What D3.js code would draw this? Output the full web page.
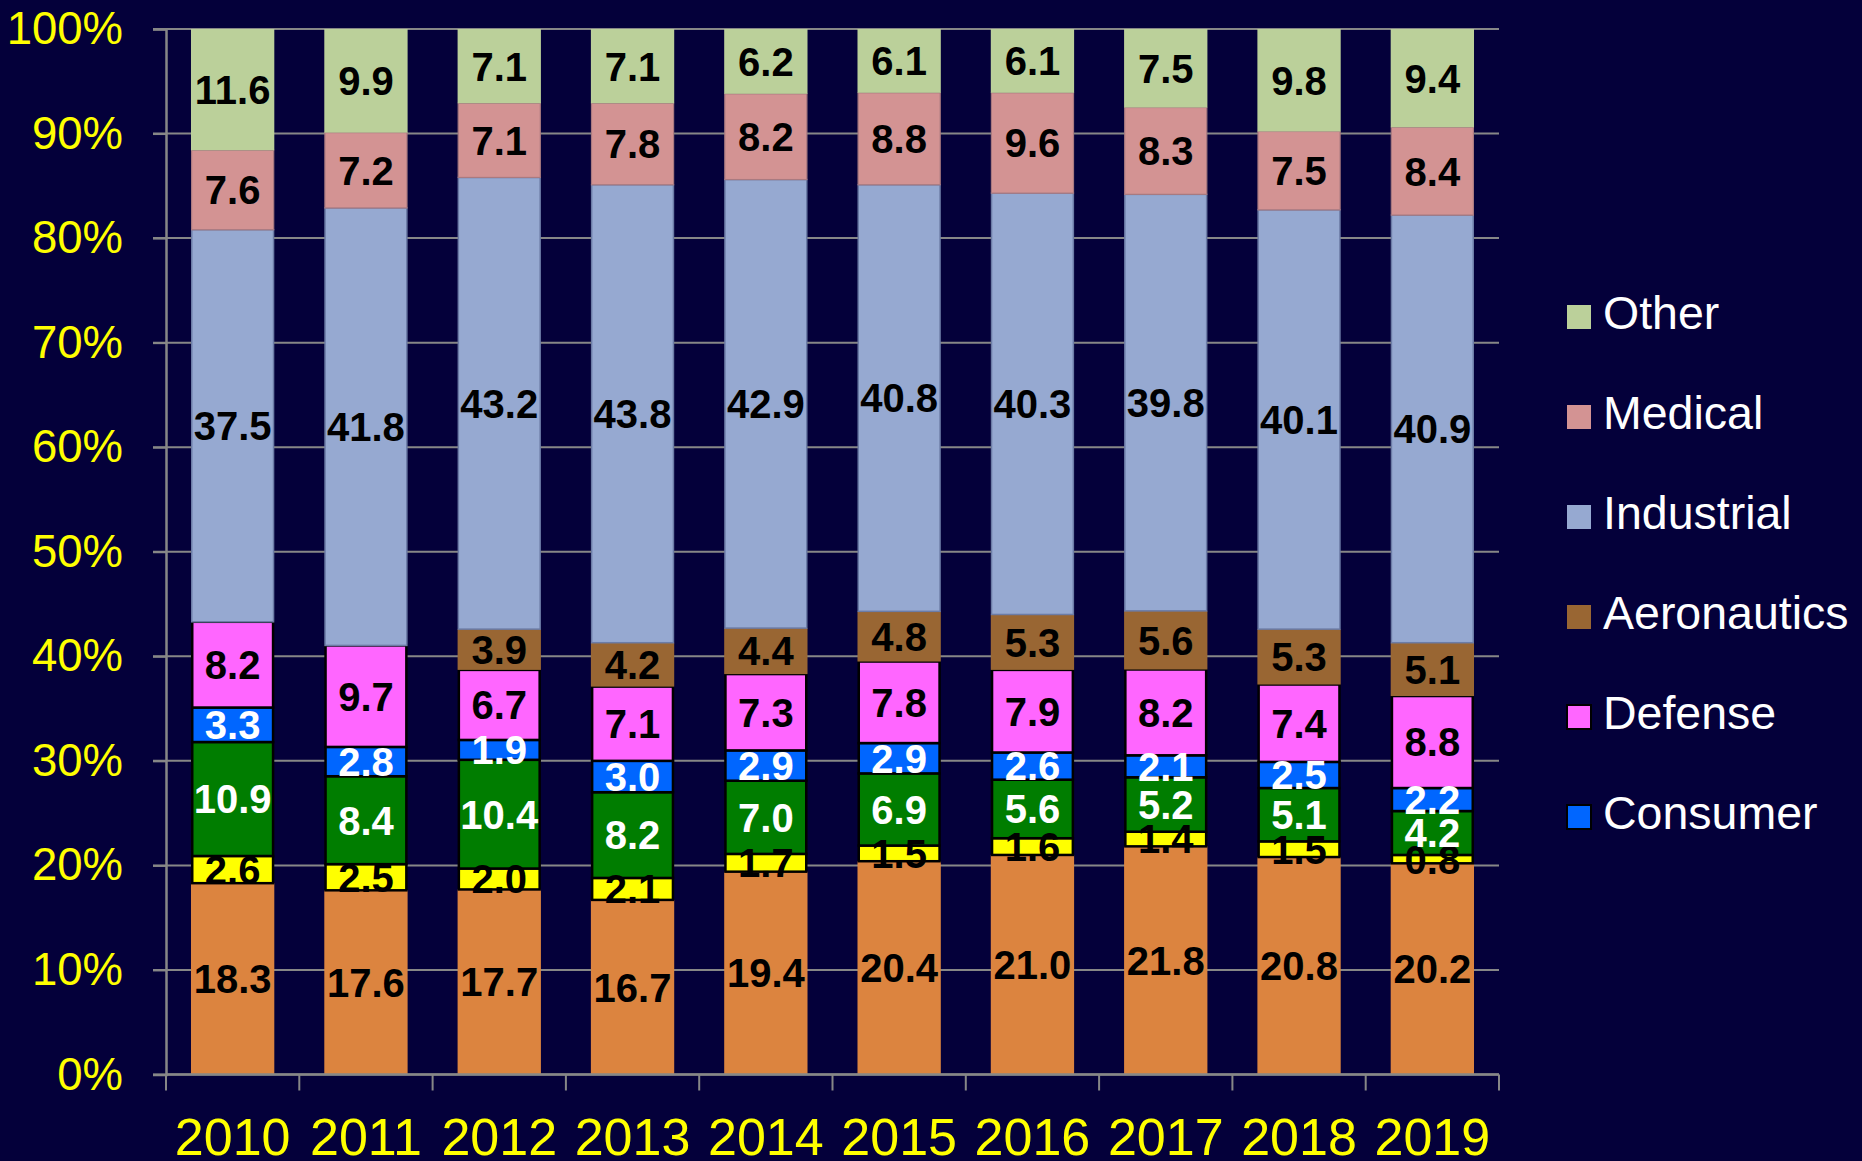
<!DOCTYPE html>
<html>
<head>
<meta charset="utf-8">
<script src="https://cdn.jsdelivr.net/npm/d3@7"></script>
<style>
  html, body { margin: 0; padding: 0; background: #04003a; }
  svg { display: block; }
  text { font-family: "Liberation Sans", Arial, sans-serif; }
</style>
</head>
<body>
<svg id="chart" width="1862" height="1161"></svg>
<script>
// Market share by segment (percent of total), one entry per year
const years = ["2010", "2011", "2012", "2013", "2014", "2015", "2016", "2017", "2018", "2019"];

// Segments from the bottom of each bar to the top
const segA        = [18.3, 17.6, 17.7, 16.7, 19.4, 20.4, 21.0, 21.8, 20.8, 20.2];
const segB        = [2.6, 2.5, 2.0, 2.1, 1.7, 1.5, 1.6, 1.4, 1.5, 0.8];
const segC        = [10.9, 8.4, 10.4, 8.2, 7.0, 6.9, 5.6, 5.2, 5.1, 4.2];
const consumer    = [3.3, 2.8, 1.9, 3.0, 2.9, 2.9, 2.6, 2.1, 2.5, 2.2];
const defense     = [8.2, 9.7, 6.7, 7.1, 7.3, 7.8, 7.9, 8.2, 7.4, 8.8];
const aeronautics = [0, 0, 3.9, 4.2, 4.4, 4.8, 5.3, 5.6, 5.3, 5.1];
const industrial  = [37.5, 41.8, 43.2, 43.8, 42.9, 40.8, 40.3, 39.8, 40.1, 40.9];
const medical     = [7.6, 7.2, 7.1, 7.8, 8.2, 8.8, 9.6, 8.3, 7.5, 8.4];
const other       = [11.6, 9.9, 7.1, 7.1, 6.2, 6.1, 6.1, 7.5, 9.8, 9.4];

const yTicks = [0, 0.1, 0.2, 0.3, 0.4, 0.5, 0.6, 0.7, 0.8, 0.9, 1.0];
const legendKeys = ["Other", "Medical", "Industrial", "Aeronautics", "Defense", "Consumer"];

const series = [
  { key: "SegA",        values: segA,        fill: "#dc843f", stroke: "none",    sw: 0,   label: "#000" },
  { key: "SegB",        values: segB,        fill: "#ffff00", stroke: "#000",    sw: 2.5, label: "#000" },
  { key: "SegC",        values: segC,        fill: "#007d00", stroke: "#000",    sw: 2.5, label: "#fff" },
  { key: "Consumer",    values: consumer,    fill: "#0066ff", stroke: "#000",    sw: 2.5, label: "#fff" },
  { key: "Defense",     values: defense,     fill: "#ff66ff", stroke: "#000",    sw: 2.5, label: "#000" },
  { key: "Aeronautics", values: aeronautics, fill: "#996633", stroke: "none",    sw: 0,   label: "#000" },
  { key: "Industrial",  values: industrial,  fill: "#96a9d1", stroke: "#6c7ca6", sw: 1.5, label: "#000" },
  { key: "Medical",     values: medical,     fill: "#d39393", stroke: "#a97a80", sw: 1.2, label: "#000" },
  { key: "Other",       values: other,       fill: "#bbd09a", stroke: "none",    sw: 0,   label: "#000" }
];

const rows = years.map((yr, i) => {
  const r = { year: yr };
  series.forEach(s => { r[s.key] = s.values[i]; });
  return r;
});

const stack = d3.stack()
  .keys(series.map(s => s.key))
  .offset(d3.stackOffsetExpand);
const stacked = stack(rows);

const svg = d3.select("#chart");
const plotLeft = 166, plotRight = 1499, plotTop = 29, plotBottom = 1074.5;

const x = d3.scaleBand().domain(years).range([plotLeft, plotRight])
  .paddingInner(0.375).paddingOuter(0.1875);
const y = d3.scaleLinear().domain([0, 1]).range([plotBottom, plotTop]);

// Horizontal gridlines behind the bars
svg.append("g")
  .selectAll("line")
  .data(yTicks)
  .join("line")
  .attr("x1", plotLeft - 13).attr("x2", plotRight)
  .attr("y1", d => y(d)).attr("y2", d => y(d))
  .attr("stroke", "#878787").attr("stroke-width", 2);

// Y axis with percent labels
const yAxis = svg.append("g")
  .attr("transform", `translate(${plotLeft},0)`)
  .call(d3.axisLeft(y).tickValues(yTicks).tickFormat(d3.format(".0%")).tickSize(13).tickPadding(30));
yAxis.select(".domain").attr("stroke", "#878787").attr("stroke-width", 2.5);
yAxis.selectAll(".tick line").attr("stroke", "#878787").attr("stroke-width", 2);
yAxis.selectAll(".tick text")
  .attr("fill", "#ffff00")
  .attr("font-size", 45.5)
  .attr("font-family", "'Liberation Sans', Arial, sans-serif");

// Stacked bars
svg.append("g").selectAll("g")
  .data(stacked)
  .join("g")
  .each(function (layer, li) {
    const s = series[li];
    d3.select(this).selectAll("rect")
      .data(layer.filter(d => d.data[s.key] > 0))
      .join("rect")
      .attr("x", d => x(d.data.year) + (s.sw ? s.sw / 2 : 0))
      .attr("width", x.bandwidth() - (s.sw ? s.sw : 0))
      .attr("y", d => y(d[1]))
      .attr("height", d => y(d[0]) - y(d[1]))
      .attr("fill", s.fill)
      .attr("stroke", s.stroke)
      .attr("stroke-width", s.sw);
  });

// Value labels centred in each segment
svg.append("g").selectAll("g")
  .data(stacked)
  .join("g")
  .each(function (layer, li) {
    const s = series[li];
    d3.select(this).selectAll("text")
      .data(layer.filter(d => d.data[s.key] > 0))
      .join("text")
      .attr("x", d => x(d.data.year) + x.bandwidth() / 2)
      .attr("y", d => (y(d[0]) + y(d[1])) / 2)
      .attr("dy", "0.36em")
      .attr("text-anchor", "middle")
      .attr("font-size", 40)
      .attr("font-weight", "bold")
      .attr("fill", s.label)
      .text(d => d.data[s.key].toFixed(1));
  });

// X axis: baseline and category separators
const xAxis = svg.append("g");
xAxis.append("line")
  .attr("x1", plotLeft).attr("x2", plotRight)
  .attr("y1", plotBottom).attr("y2", plotBottom)
  .attr("stroke", "#878787").attr("stroke-width", 2.5);
xAxis.selectAll("line.sep")
  .data(d3.range(years.length + 1))
  .join("line")
  .attr("class", "sep")
  .attr("x1", i => plotLeft + i * x.step()).attr("x2", i => plotLeft + i * x.step())
  .attr("y1", plotBottom).attr("y2", plotBottom + 16)
  .attr("stroke", "#878787").attr("stroke-width", 2);
xAxis.selectAll("text")
  .data(years)
  .join("text")
  .attr("x", d => x(d) + x.bandwidth() / 2)
  .attr("y", 1155)
  .attr("text-anchor", "middle")
  .attr("font-size", 52)
  .attr("fill", "#ffff00")
  .text(d => d);

// Legend
const legend = svg.append("g");
const legendItems = legend.selectAll("g")
  .data(legendKeys)
  .join("g")
  .attr("transform", (d, i) => `translate(1567,${317 + i * 100})`);
legendItems.append("rect")
  .attr("x", 0).attr("y", -12)
  .attr("width", 24).attr("height", 24)
  .attr("fill", d => series.find(s => s.key === d).fill)
  .attr("stroke", d => { const s = series.find(t => t.key === d); return s.stroke === "#000" ? "#000" : "none"; })
  .attr("stroke-width", 2);
legendItems.append("text")
  .attr("x", 36).attr("y", 12)
  .attr("font-size", 46.5)
  .attr("fill", "#ffffff")
  .text(d => d);
</script>
</body>
</html>
